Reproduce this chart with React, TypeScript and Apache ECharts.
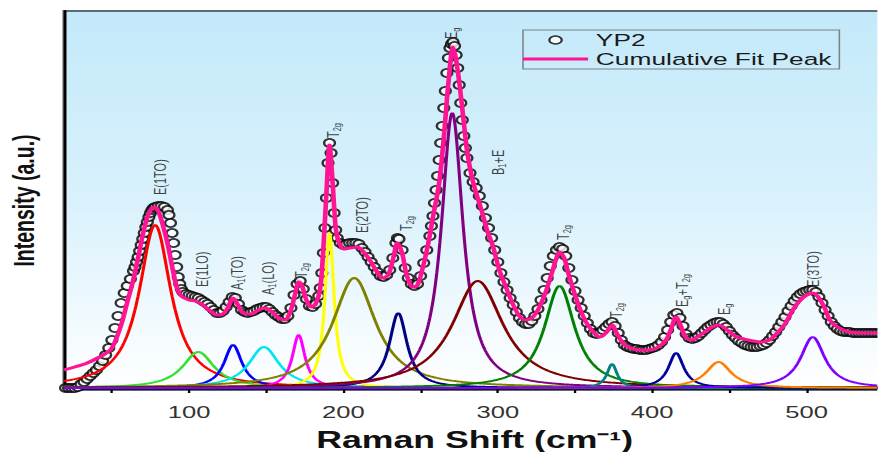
import React, { useEffect, useRef } from 'react';
import * as echarts from 'echarts';

// Measured spectrum YP2: [Raman shift (cm-1), intensity (a.u.)]
const yp2: number[][] = [
  [20, 0], [22, 0], [24, 0], [26, 0], [28, 1], [30, 4], [32, 6], [34, 9], [36, 12], [38, 15],
  [40, 18], [42, 22], [44, 27], [46, 33], [48, 40], [50, 48], [52, 60], [54, 72], [56, 85], [58, 95],
  [60, 102], [62, 109], [64, 117], [65, 121], [66, 126], [67, 131], [68, 137], [69, 143], [70, 149], [71, 155],
  [72, 161], [73, 166], [74, 171], [75, 175], [76, 178], [77, 180], [78, 181], [80, 182], [82, 182], [84, 181],
  [86, 178], [87, 173], [88, 165], [89, 155], [90, 145], [91, 133], [92, 121], [93, 111], [94, 104], [95, 99],
  [96, 96], [98, 94], [100, 93], [102, 92], [104, 91], [106, 90], [108, 88], [110, 86], [112, 84], [114, 81],
  [116, 78], [118, 75], [120, 75], [122, 77], [124, 81], [126, 86], [128, 91], [130, 90], [132, 84], [134, 78],
  [136, 76], [138, 75], [140, 76], [142, 77], [144, 79], [146, 80], [148, 81], [150, 81], [152, 79], [154, 76],
  [156, 73], [158, 71], [160, 69], [162, 69], [164, 72], [166, 80], [168, 93], [170, 104], [172, 107], [174, 99],
  [176, 89], [178, 82], [180, 81], [182, 84], [184, 92], [185, 100], [186, 115], [187, 135], [188, 160], [189, 190],
  [190, 225], [191, 245], [192, 235], [193, 205], [194, 175], [195, 158], [196, 150], [198, 145], [200, 143], [202, 144],
  [204, 145], [206, 145], [208, 145], [210, 144], [212, 140], [214, 136], [216, 131], [218, 126], [220, 121], [222, 116],
  [224, 112], [226, 111], [228, 113], [230, 118], [232, 130], [234, 145], [235, 150], [236, 149], [238, 138], [240, 120],
  [242, 110], [244, 104], [246, 102], [248, 104], [250, 112], [252, 125], [254, 138], [256, 152], [257, 162], [258, 172],
  [259, 185], [260, 198], [261, 212], [262, 228], [263, 245], [264, 262], [265, 280], [266, 297], [267, 315], [268, 330],
  [269, 340], [270, 344], [271, 346], [272, 342], [273, 333], [274, 320], [275, 303], [276, 285], [277, 268], [278, 252],
  [279, 240], [280, 230], [282, 215], [284, 206], [286, 200], [288, 192], [290, 182], [292, 170], [294, 160], [296, 150],
  [298, 138], [300, 126], [302, 115], [304, 106], [306, 98], [308, 90], [310, 83], [312, 76], [314, 70], [316, 66],
  [318, 64], [320, 64], [322, 67], [324, 72], [326, 79], [328, 88], [330, 98], [332, 110], [334, 122], [336, 132],
  [338, 138], [340, 141], [342, 139], [344, 132], [346, 120], [348, 108], [350, 97], [352, 88], [354, 80], [356, 72],
  [358, 65], [360, 59], [362, 55], [364, 54], [366, 55], [368, 58], [370, 61], [372, 64], [374, 66], [376, 62],
  [378, 55], [380, 48], [382, 43], [384, 41], [386, 40], [388, 39], [390, 39], [392, 38], [394, 38], [396, 38],
  [398, 39], [400, 40], [402, 41], [404, 43], [406, 46], [408, 51], [410, 58], [412, 66], [414, 73], [416, 75],
  [418, 70], [420, 62], [422, 54], [424, 50], [426, 49], [428, 50], [430, 52], [432, 55], [434, 58], [436, 61],
  [438, 63], [440, 65], [442, 66], [444, 66], [446, 64], [448, 61], [450, 57], [452, 53], [454, 50], [456, 47],
  [458, 45], [460, 43], [462, 42], [464, 41], [466, 41], [468, 41], [470, 42], [472, 43], [474, 45], [476, 48],
  [478, 52], [480, 56], [482, 61], [484, 66], [486, 71], [488, 77], [490, 82], [492, 87], [494, 91], [496, 94],
  [498, 96], [500, 97], [502, 98], [504, 98], [506, 96], [508, 91], [510, 85], [512, 78], [514, 72], [516, 66],
  [518, 62], [520, 59], [522, 57], [524, 56], [526, 56], [528, 56], [530, 55], [532, 55], [534, 55], [536, 55],
  [538, 55], [540, 55], [542, 55], [544, 55], [546, 55], [548, 55], [550, 55]
];

// Cumulative fit curve: [Raman shift, intensity]
const cumulativeFit: number[][] = [
  [19, 18], [26, 21], [34, 25], [42, 31], [49, 38], [53, 50], [57, 68], [60, 86], [62, 97], [64, 109],
  [67, 130], [70, 153], [73, 171], [75, 178], [77.5, 181], [80, 177], [83, 163], [86, 145], [89, 122], [92, 101],
  [95, 92], [100, 88], [104, 87], [108, 84], [113, 78], [118, 73], [122, 74], [125, 80], [128.5, 90], [132, 82],
  [135, 75], [140, 74], [145, 78], [149, 80], [153, 77], [158, 70], [162, 68], [166, 78], [169, 96], [171, 106],
  [173, 103], [176, 88], [179, 81], [182, 84], [185, 100], [187, 140], [189, 195], [191, 243], [193, 205], [195, 160],
  [197, 146], [200, 139], [204, 140], [209, 141], [213, 136], [217, 128], [221, 118], [225.5, 110], [229, 113], [232, 128],
  [235, 145], [238, 135], [241, 113], [245, 101], [248, 103], [251.5, 121], [255, 145], [258, 171], [262, 205], [265, 250],
  [268, 305], [271, 341], [273, 328], [275.5, 300], [278, 265], [280, 238], [283, 212], [286, 195], [290, 175], [293, 158],
  [297, 141], [301, 118], [306, 98], [310, 83], [314, 72], [318, 68], [322, 70], [326, 78], [331, 96], [335, 115],
  [338, 130], [340, 136], [343, 130], [346, 113], [349, 98], [353, 80], [357.5, 65], [362, 56], [366, 51], [370, 55],
  [374, 63], [377, 55], [381, 45], [386, 40], [392, 38], [398, 38], [404, 41], [409, 48], [412, 58], [415.5, 71],
  [418, 64], [422, 50], [426, 48], [430, 52], [434, 56], [439, 61], [443, 63], [447, 60], [451, 55], [455, 51],
  [462, 48], [470, 46], [476, 48], [481, 55], [486, 64], [491, 78], [496, 88], [500, 93], [504, 95], [508, 90],
  [512, 79], [515, 68], [520, 61], [528, 56], [536, 55], [546, 55], [551, 55]
];

// Fitted Lorentzian components
const peakCenter = [78, 106, 128.5, 148.5, 171, 191, 207, 235.5, 270.5, 287, 340, 374, 415.5, 443, 504];
const peakHeight = [163, 36, 43, 41, 53, 155, 110, 75, 275, 107, 102, 24, 35, 26, 51];
const peakFwhm = [25, 25, 14, 24, 10, 7.2, 34, 14, 17, 40, 24, 8, 12, 20, 19];

// Peak assignment labels
const peakLabelShift = [81, 108.5, 131, 151, 172.5, 193, 212, 240.5, 270, 300, 342.5, 376.5, 419.5, 446.5, 504.5];
const peakLabelLevel = [193, 101, 98, 93, 110, 250, 155, 157, 349, 213, 148, 70, 81, 73, 101];
const peakLabelText = ['E(1TO)', 'E(1LO)', 'A{s|1}(TO)', 'A{s|1}(LO)', 'T{s|2g}', 'T{s|2g}', 'E(2TO)', 'T{s|2g}',
  'E{s|g}', 'B{s|1}+E', 'T{s|2g}', 'T{s|2g}', 'E{s|g}+T{s|2g}', 'E{s|g}', 'E(3TO)'];

const majorTicks = [100, 200, 300, 400, 500];
const minorTicks = [50, 150, 250, 350, 450, 550];

const peakColors = ['#ff0000', '#33e033', '#0000ff', '#00e5ee', '#ff00ff', '#ffff00', '#808000', '#000080',
  '#800080', '#800000', '#008000', '#008080', '#00009c', '#ff8000', '#8000ff'];

const S = 1.55;
const W = 878 / S;
const FONT = '"Liberation Sans", Arial, Helvetica, sans-serif';

export default function App() {
  const ref = useRef<HTMLDivElement>(null);
  useEffect(() => {
    if (!ref.current) return;
    const chart = echarts.init(ref.current, null, { renderer: 'svg' });
    const xs: number[] = [];
    for (let x = 19; x <= 551; x += 0.5) xs.push(x);
    const comps = peakCenter.map((c, i) => ({
      type: 'line',
      name: 'peak' + i,
      symbol: 'none',
      silent: true,
      z: 3,
      lineStyle: { color: peakColors[i], width: 2 },
      itemStyle: { color: peakColors[i] },
      data: xs.map((x) => [x, peakHeight[i] / (1 + Math.pow((x - c) / (peakFwhm[i] / 2), 2))]),
    }));
    chart.setOption({
      animation: false,
      grid: {
        left: 64 / S,
        right: W - 886 / S,
        top: 11,
        bottom: 62,
        outerBoundsMode: 'none',
        containLabel: false,
        show: true,
        borderColor: '#5f6a72',
        borderWidth: 2,
        backgroundColor: new echarts.graphic.LinearGradient(0, 0, 0, 1, [
          { offset: 0, color: '#c3e9fa' },
          { offset: 0.5, color: '#d9f1fc' },
          { offset: 1, color: '#ffffff' },
        ]),
      },
      legend: {
        left: 523 / S,
        top: 30,
        orient: 'vertical',
        itemWidth: 42,
        itemHeight: 8,
        itemGap: 1,
        padding: [1, 5, 1, 0],
        borderColor: '#7b8288',
        borderWidth: 1,
        textStyle: { fontSize: 17, lineHeight: 18, color: '#1a1a1a', fontFamily: FONT },
        data: [
          { name: 'YP2', icon: 'circle', itemStyle: { color: '#ffffff', borderColor: '#000000', borderWidth: 1.4 } },
          { name: 'Cumulative Fit Peak', icon: 'path://M0 0H42V3H0Z', itemStyle: { color: '#ff1493' } },
        ],
      },
      xAxis: [
        {
          type: 'value',
          min: 19,
          max: 551,
          splitLine: { show: false },
          axisLine: { lineStyle: { color: '#000', width: 2.5 } },
          axisTick: { customValues: majorTicks, length: 5, lineStyle: { color: '#000', width: 1.5 } },
          axisLabel: { customValues: majorTicks, fontSize: 16.5, color: '#333', margin: 14, fontFamily: FONT },
          name: 'Raman Shift (cm⁻¹)',
          nameLocation: 'middle',
          nameGap: 38,
          nameTextStyle: { fontSize: 23, fontWeight: 'bold', color: '#111', fontFamily: FONT },
        },
        {
          type: 'value',
          min: 19,
          max: 551,
          position: 'bottom',
          splitLine: { show: false },
          axisLine: { show: false },
          axisTick: { customValues: minorTicks, length: 3, lineStyle: { color: '#000', width: 1.5 } },
          axisLabel: { show: false },
        },
      ],
      yAxis: {
        type: 'value',
        min: -2,
        max: 377,
        splitLine: { show: false },
        axisTick: { show: false },
        axisLabel: { show: false },
        axisLine: { show: true, lineStyle: { color: '#000', width: 1.8 } },
        name: 'Intensity (a.u.)',
        nameLocation: 'middle',
        nameGap: 16,
        nameTextStyle: { fontSize: 19.5, fontWeight: 'bold', color: '#111', fontFamily: FONT },
      },
      series: [
        {
          type: 'scatter',
          name: 'YP2',
          z: 2,
          symbol: 'circle',
          symbolSize: [7, 8],
          itemStyle: { color: '#ffffff', borderColor: '#000000', borderWidth: 1.6 },
          data: yp2,
        },
        ...comps,
        {
          type: 'line',
          name: 'Cumulative Fit Peak',
          z: 4,
          symbol: 'none',
          smooth: 0.3,
          lineStyle: { color: '#ff1493', width: 3 },
          itemStyle: { color: '#ff1493' },
          data: cumulativeFit,
        },
        {
          type: 'scatter',
          name: 'labels',
          z: 5,
          silent: true,
          symbolSize: 0,
          data: peakLabelShift.map((x, i) => [x, peakLabelLevel[i]]),
          label: {
            show: true,
            position: [0, 0],
            rotate: 90,
            align: 'left',
            verticalAlign: 'middle',
            fontSize: 11,
            color: '#111',
            fontFamily: FONT,
            formatter: (p: any) => peakLabelText[p.dataIndex],
            rich: { s: { fontSize: 7.5, padding: [5, 0, 0, 0], color: '#111', fontFamily: FONT } },
          },
        },
      ],
    });
    return () => chart.dispose();
  }, []);
  return (
    <div
      ref={ref}
      style={{
        position: 'absolute',
        left: 0,
        top: 0,
        width: W,
        height: 452,
        transform: `scaleX(${S})`,
        transformOrigin: '0 0',
      }}
    />
  );
}
